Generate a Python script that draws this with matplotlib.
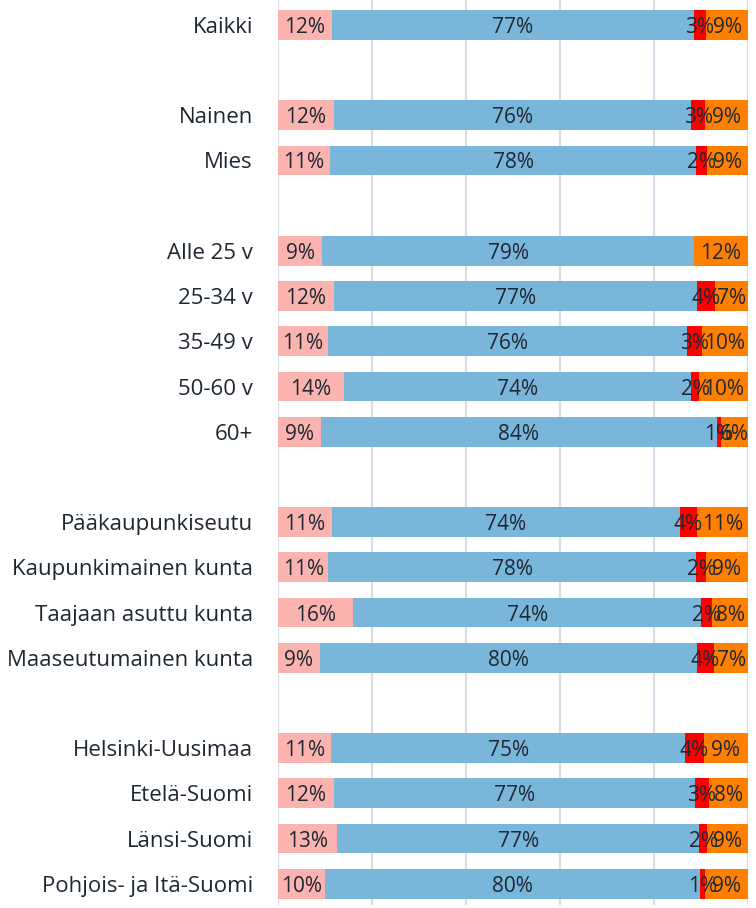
import matplotlib.pyplot as plt
import numpy as np

# rivit (tyhjä merkkijono = väli ryhmien välissä)
categories = ['Kaikki', '',
              'Nainen', 'Mies', '',
              'Alle 25 v', '25-34 v', '35-49 v', '50-60 v', '60+', '',
              'Pääkaupunkiseutu', 'Kaupunkimainen kunta', 'Taajaan asuttu kunta', 'Maaseutumainen kunta', '',
              'Helsinki-Uusimaa', 'Etelä-Suomi', 'Länsi-Suomi', 'Pohjois- ja Itä-Suomi']

# osuudet (%) kullekin segmentille, None = tyhjä rivi
pink = [11.5, None, 11.9, 11.1, None, 9.4, 11.9, 10.6, 14.0, 9.1, None, 11.4, 10.7, 15.9, 8.9, None, 11.3, 11.9, 12.6, 10.0]
blue = [77.0, None, 76.0, 77.8, None, 79.1, 77.2, 76.4, 73.9, 84.3, None, 74.1, 78.3, 74.2, 80.2, None, 75.3, 76.8, 77.0, 79.8]
red = [2.6, None, 3.0, 2.4, None, 0.0, 3.9, 3.2, 1.7, 0.9, None, 3.6, 2.0, 2.3, 3.7, None, 4.0, 3.0, 1.7, 1.1]
orange = [8.9, None, 9.1, 8.7, None, 11.5, 7.0, 9.8, 10.4, 5.7, None, 10.9, 9.0, 7.6, 7.2, None, 9.4, 8.3, 8.7, 9.1]

colors = ['#FAB3AE', '#7AB6DA', '#FF0000', '#FF7F00']
text_color = '#1E2832'

plt.rcParams['font.family'] = ['Open Sans', 'DejaVu Sans']

fig = plt.figure(figsize=(7.56, 9.08), dpi=100)
ax = fig.add_axes([278 / 756, 3 / 908, 470 / 756, 905 / 908])

y = np.arange(len(categories))
series = [pink, blue, red, orange]
left = np.zeros(len(categories))
for vals, col in zip(series, colors):
    v = np.array([0 if x is None else x for x in vals], dtype=float)
    ax.barh(y, v, left=left, height=0.66, color=col, linewidth=0, zorder=2)
    for i in range(len(categories)):
        if vals[i] is not None and vals[i] > 0:
            ax.text(left[i] + v[i] / 2, y[i], f'{round(vals[i])}%', ha='center', va='center_baseline',
                    fontsize=15, color=text_color, zorder=3)
    left += v

ax.set_xlim(0, 100)
ax.set_ylim(19.47, -0.55)
ax.set_xticks(np.arange(0, 101, 20))
ax.set_xticklabels([])
ax.set_yticks(y)
ax.set_yticklabels(categories, fontsize=16, color=text_color, va='center_baseline')
ax.tick_params(axis='both', length=0)
ax.tick_params(axis='y', pad=18)
ax.grid(axis='x', color='#D6DFE8', linewidth=1.6, zorder=0)
ax.set_axisbelow(True)
for s in ax.spines.values():
    s.set_visible(False)

fig.savefig('out.png', dpi=100)
